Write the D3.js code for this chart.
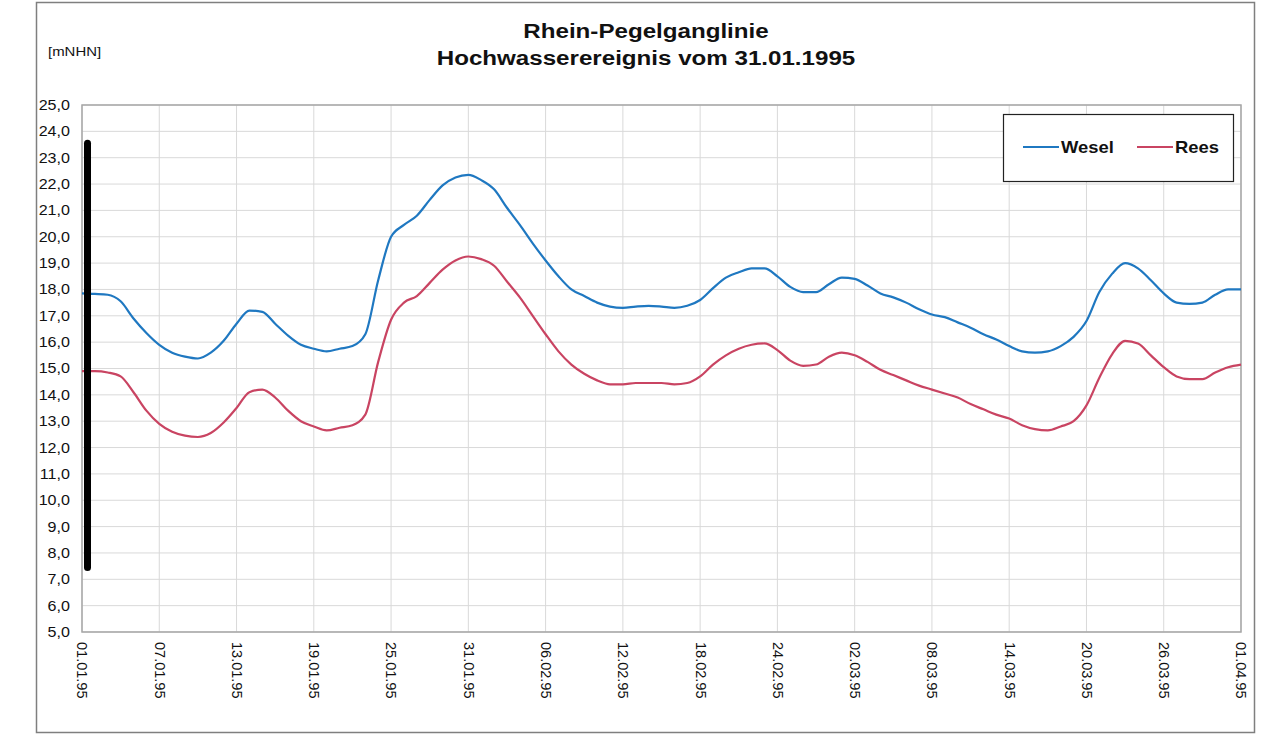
<!DOCTYPE html>
<html>
<head>
<meta charset="utf-8">
<script src="https://cdn.jsdelivr.net/npm/d3@7"></script>
<style>
body { margin: 0; background: #fff; }
svg { font-family: "Liberation Sans", Arial, sans-serif; }
.grid line { stroke: #d9d9d9; stroke-width: 1; }
.axis text { fill: #111; }
</style>
</head>
<body>
<svg id="chart" width="1273" height="739"></svg>
<script>
// Pegelstände, Tageswerte 01.01.1995 - 01.04.1995 [mNHN]
var seriesNames = ["Wesel", "Rees"];
var seriesColors = ["#1f78c1", "#c94462"];
var wesel = [17.85,17.83,17.8,17.55,16.9,16.35,15.9,15.6,15.45,15.38,15.6,16.05,16.7,17.2,17.15,16.7,16.25,15.9,15.75,15.65,15.75,15.85,16.3,18.35,20.0,20.45,20.8,21.4,21.95,22.25,22.35,22.15,21.8,21.1,20.45,19.75,19.1,18.5,18.0,17.75,17.5,17.35,17.3,17.35,17.38,17.35,17.3,17.38,17.6,18.05,18.45,18.65,18.8,18.8,18.5,18.1,17.9,17.9,18.2,18.45,18.4,18.15,17.85,17.7,17.5,17.25,17.05,16.95,16.75,16.55,16.3,16.1,15.85,15.65,15.6,15.65,15.85,16.2,16.8,17.9,18.6,19.0,18.8,18.35,17.85,17.5,17.45,17.5,17.8,18.0,18.0];
var rees = [14.9,14.9,14.85,14.7,14.1,13.4,12.9,12.6,12.45,12.4,12.55,12.95,13.5,14.1,14.2,13.9,13.4,13.0,12.8,12.65,12.75,12.85,13.25,15.25,16.85,17.5,17.75,18.25,18.75,19.1,19.25,19.15,18.9,18.3,17.7,17.0,16.3,15.65,15.15,14.8,14.55,14.4,14.4,14.45,14.45,14.45,14.4,14.45,14.7,15.15,15.5,15.75,15.9,15.95,15.7,15.3,15.1,15.15,15.45,15.6,15.5,15.25,14.95,14.75,14.55,14.35,14.2,14.05,13.9,13.65,13.45,13.25,13.1,12.85,12.7,12.65,12.8,13.0,13.6,14.65,15.55,16.05,15.95,15.5,15.05,14.7,14.6,14.6,14.85,15.05,15.15];
var xTickLabels = ["01.01.95","07.01.95","13.01.95","19.01.95","25.01.95","31.01.95","06.02.95","12.02.95","18.02.95","24.02.95","02.03.95","08.03.95","14.03.95","20.03.95","26.03.95","01.04.95"];
var yTicks = d3.range(5, 25.01, 1);

var svg = d3.select("#chart");
var margin = { left: 82, right: 1241, top: 105, bottom: 632 };
var hs = 1.15;	// Schrift im Original leicht in die Breite gezogen

var parseDate = d3.timeParse("%d.%m.%y");
var startDate = new Date(1995, 0, 1);
var dates = wesel.map(function(d, i){ return d3.timeDay.offset(startDate, i); });

var x = d3.scaleTime()
	.domain([startDate, new Date(1995, 3, 1)])
	.range([margin.left, margin.right]);
var y = d3.scaleLinear().domain([5, 25]).range([margin.bottom, margin.top]);

function label(px, py, txt, size, bold, anchor){
	return svg.append("text")
		.attr("transform", "translate(" + px + "," + py + ") scale(" + hs + ",1)")
		.attr("text-anchor", anchor || "start")
		.attr("font-size", size + "px")
		.attr("font-weight", bold ? "bold" : "normal")
		.attr("fill", "#111")
		.text(txt);
}

// äußerer Rahmen
svg.append("rect")
	.attr("x", 36.5).attr("y", 2.5).attr("width", 1218).attr("height", 730)
	.attr("fill", "none").attr("stroke", "#7f7f7f").attr("stroke-width", 1.5);

// Titel
label(646, 38, "Rhein-Pegelganglinie", 21, true, "middle");
label(646, 65, "Hochwasserereignis vom 31.01.1995", 21, true, "middle");
label(48, 56, "[mNHN]", 13, false);

// Gitter
var tickDates = xTickLabels.map(function(s){ return parseDate(s); });
svg.append("g").attr("class", "grid")
	.selectAll("line").data(yTicks).enter().append("line")
	.attr("x1", margin.left).attr("x2", margin.right)
	.attr("y1", function(d){ return y(d); }).attr("y2", function(d){ return y(d); });
svg.append("g").attr("class", "grid")
	.selectAll("line").data(tickDates).enter().append("line")
	.attr("y1", margin.top).attr("y2", margin.bottom)
	.attr("x1", function(d){ return x(d); }).attr("x2", function(d){ return x(d); });

// Plotrahmen
svg.append("rect")
	.attr("x", margin.left).attr("y", margin.top)
	.attr("width", margin.right - margin.left).attr("height", margin.bottom - margin.top)
	.attr("fill", "none").attr("stroke", "#a6a6a6").attr("stroke-width", 1.5);

// Achsen
var fmt = d3.format(".1f");
var yAxis = d3.axisLeft(y).tickValues(yTicks).tickSize(0).tickPadding(0)
	.tickFormat(function(d){ return fmt(d).replace(".", ","); });
svg.append("g").attr("class", "axis")
	.attr("transform", "translate(" + margin.left + ",0)")
	.call(yAxis)
	.call(function(g){ g.select(".domain").remove(); })
	.selectAll("text")
	.attr("font-size", "14px")
	.attr("x", null)
	.attr("transform", "translate(-12,0) scale(" + hs + ",1)");

var xAxis = d3.axisBottom(x).tickValues(tickDates).tickSize(0).tickPadding(0)
	.tickFormat(function(d, i){ return xTickLabels[i]; });
svg.append("g").attr("class", "axis")
	.attr("transform", "translate(0," + margin.bottom + ")")
	.call(xAxis)
	.call(function(g){ g.select(".domain").remove(); })
	.selectAll("text")
	.attr("font-size", "14.5px")
	.attr("transform", "rotate(90)")
	.attr("text-anchor", "start")
	.attr("x", 10).attr("y", 0).attr("dy", "0.35em");

// Ganglinien
var line = d3.line()
	.x(function(d, i){ return x(dates[i]); })
	.y(function(d){ return y(d); })
	.curve(d3.curveMonotoneX);

svg.selectAll("path.series").data([wesel, rees]).enter().append("path")
	.attr("class", "series")
	.attr("d", line)
	.attr("fill", "none")
	.attr("stroke", function(d, i){ return seriesColors[i]; })
	.attr("stroke-width", 2.2);

// schwarzer Markierungsbalken
svg.append("line")
	.attr("x1", x(startDate) + 5.5).attr("x2", x(startDate) + 5.5)
	.attr("y1", y(23.55)).attr("y2", y(7.45))
	.attr("stroke", "#000").attr("stroke-width", 7).attr("stroke-linecap", "round");

// Legende
svg.append("rect")
	.attr("x", 1003.5).attr("y", 114.5).attr("width", 230).attr("height", 67)
	.attr("fill", "#fff").attr("stroke", "#222").attr("stroke-width", 1.2);
var legendX = [1023, 1137];
seriesNames.forEach(function(name, i){
	svg.append("line")
		.attr("x1", legendX[i]).attr("x2", legendX[i] + 36)
		.attr("y1", 147).attr("y2", 147)
		.attr("stroke", seriesColors[i]).attr("stroke-width", 2.2);
	label(legendX[i] + 38, 153, name, 16, true);
});
</script>
</body>
</html>
